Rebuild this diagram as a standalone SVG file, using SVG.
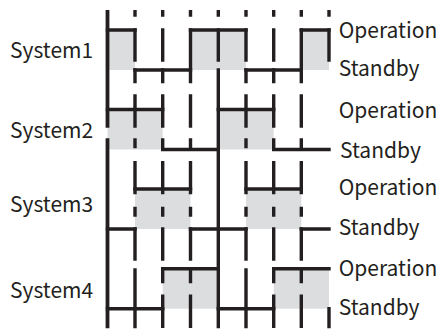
<svg xmlns="http://www.w3.org/2000/svg" width="436" height="332" viewBox="0 0 436 332">
<style>
.bg{fill:#ffffff}
.op{fill:#dcdddf}
.ln{stroke:#231f20;stroke-width:3.4;fill:none;stroke-linecap:butt}
.t{font-family:"Noto Sans CJK JP","Noto Sans",sans-serif;font-size:21px;fill:#231f20}
</style>
<rect class="bg" x="0" y="0" width="436" height="332"/>
<g id="system1">
<rect class="op" x="107.5" y="30" width="27.5" height="40"/>
<rect class="op" x="190.5" y="30" width="55.5" height="40"/>
<rect class="op" x="301.3" y="30" width="27.7" height="40"/>
<path class="ln" d="M105.8 30H136.7M188.8 30H247.7M299.6 30H330.7M133.3 70H192.2M244.3 70H303"/>
<text class="t" x="10" y="58.3">System1</text>
<text class="t" x="338.7" y="38.3">Operation</text>
<text class="t" x="338.7" y="75.5">Standby</text>
</g>
<g id="system2">
<rect class="op" x="107.5" y="109.5" width="55.2" height="40"/>
<rect class="op" x="218.3" y="109.5" width="55.4" height="40"/>
<path class="ln" d="M105.8 109.5H164.4M216.6 109.5H275.4M161 149.5H220M272 149.5H330.7"/>
<text class="t" x="10" y="138.3">System2</text>
<text class="t" x="338.7" y="118">Operation</text>
<text class="t" x="340" y="158">Standby</text>
</g>
<g id="system3">
<rect class="op" x="135" y="189" width="55.5" height="40"/>
<rect class="op" x="246" y="189" width="55.3" height="40"/>
<path class="ln" d="M133.3 189H192.2M244.3 189H303M105.8 229H136.7M188.8 229H247.7M299.6 229H330.7"/>
<text class="t" x="10" y="211.7">System3</text>
<text class="t" x="338.7" y="195">Operation</text>
<text class="t" x="338.7" y="235">Standby</text>
</g>
<g id="system4">
<rect class="op" x="162.7" y="268.8" width="55.6" height="39.9"/>
<rect class="op" x="273.7" y="268.8" width="55.3" height="39.9"/>
<path class="ln" d="M161 268.8H220M272 268.8H330.7M105.8 308.7H164.4M216.6 308.7H275.4"/>
<text class="t" x="10" y="298.3">System4</text>
<text class="t" x="338.7" y="276">Operation</text>
<text class="t" x="338.7" y="315">Standby</text>
</g>
<g id="connectors">
<path class="ln" style="stroke-width:3.8" d="M107.5 10V127.7M107.5 138.3V328.3"/>
<path class="ln" d="M135 10V16.7M135 28.3V61.7M135 68.3V83.3M135 94.3V127.7M135 138.3V148.3M135 161V194.3M135 206.7V216.7M135 227.3V260.7M135 268.3V328.3"/>
<path class="ln" d="M162.7 10V16.7M162.7 28.3V61.7M162.7 68.3V83.3M162.7 94.3V127.7M162.7 138.3V148.3M162.7 161V194.3M162.7 206.7V216.7M162.7 227.3V260.7M162.7 268V283.3M162.7 294.5V328"/>
<path class="ln" d="M190.5 10V16.7M190.5 28.3V83.3M190.5 94.3V127.7M190.5 138.3V148.3M190.5 161V194.3M190.5 206.7V216.7M190.5 227.3V260.7M190.5 270V283.3M190.5 294.5V328"/>
<path class="ln" d="M218.3 10V16.7M218.3 28.3V61.7M218.3 68.3V328.3"/>
<path class="ln" d="M246 10V16.7M246 28.3V61.7M246 68.3V83.3M246 94.3V127.7M246 138.3V148.3M246 161V194.3M246 206.7V216.7M246 227.3V260.7M246 268.3V328.3"/>
<path class="ln" d="M273.7 10V16.7M273.7 28.3V61.7M273.7 68.3V83.3M273.7 94.3V127.7M273.7 138.3V148.3M273.7 161V194.3M273.7 206.7V216.7M273.7 227.3V260.7M273.7 268V283.3M273.7 294.5V328"/>
<path class="ln" d="M301.3 10V16.7M301.3 28.3V83.3M301.3 94.3V127.7M301.3 138.3V148.3M301.3 161V194.3M301.3 206.7V216.7M301.3 227.3V260.7M301.3 270V283.3M301.3 294.5V328"/>
<path class="ln" d="M329 10V16.7M329 28.3V61.7M329 307V328.3"/>
</g>
</svg>
